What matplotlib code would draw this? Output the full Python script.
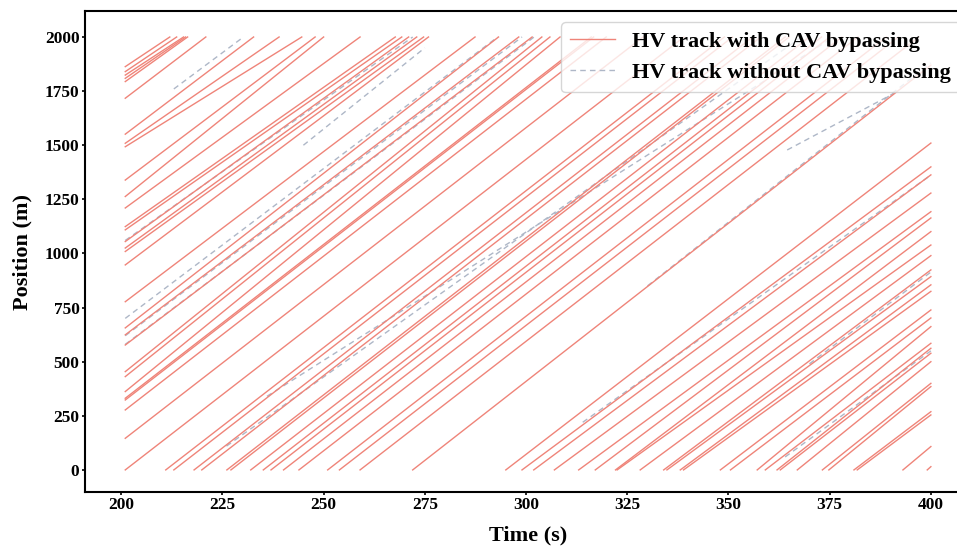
import matplotlib
matplotlib.use("Agg")
import matplotlib.pyplot as plt

plt.rcParams["font.family"] = ["Liberation Serif", "DejaVu Serif"]
plt.rcParams["font.weight"] = "bold"

# HV tracks with CAV bypassing: start (time, position) -> end (time, position)
with_t0 = [201, 201, 201, 201, 201, 201, 201, 201, 201, 201, 201, 201, 201, 201, 201,
           201, 201, 201, 201, 201, 201, 201, 201, 201, 201, 201, 201, 201, 201,
           201, 211, 213, 218, 219.9, 226.1, 227.1, 232, 235.1, 237, 240.1, 243.9, 251, 253.9, 259,
           272, 295, 299, 301.9, 307, 313, 317.1, 322.1, 322.5, 328.2, 334, 334.8, 338.1, 338.9,
           348, 350.5, 357.1, 359.1, 362, 362.8, 367, 373.2, 374.8, 381, 381.8, 393.1, 399.1]
with_x0 = [1863, 1840, 1824, 1809, 1794, 1717, 1551, 1509, 1493, 1339, 1263, 1210, 1124, 1109, 1055,
           1025, 1009, 947, 777, 656, 624, 577, 454, 431, 362, 331, 323, 277, 146,
           0, 0, 0, 0, 0, 0, 0, 0, 0, 0, 0, 0, 0, 0, 0,
           0, 0, 0, 0, 0, 0, 0, 0, 0, 0, 0, 0, 0, 0,
           0, 0, 0, 0, 0, 0, 0, 0, 0, 0, 0, 0, 0]
with_t1 = [212, 213.7, 215.4, 215.9, 216.4, 220.9, 232.7, 239, 244.6, 247.9, 250, 259, 267.7, 269.3, 271,
           273, 274.7, 275.9, 287.4, 293.2, 298.2, 301.5, 303.9, 305.9, 308.4, 316.1, 316.7, 319.8, 328.9,
           339, 349, 351, 356, 358, 364, 365, 370, 373, 375, 378, 382, 389, 392, 397,
           400, 400, 400, 400, 400, 400, 400, 400, 400, 400, 400, 400, 400, 400,
           400, 400, 400, 400, 400, 400, 400, 400, 400, 400, 400, 400, 400]
with_x1 = [2000] * 44 + [1870, 1510, 1400, 1363, 1279, 1193, 1164, 1101, 1039, 990, 924, 893, 855, 825,
                         739, 702, 662, 585, 562, 539, 500, 400, 385, 269, 254, 108, 15]

# HV tracks without CAV bypassing
without_t0 = [213, 201, 201, 201, 226, 236, 245, 201, 330, 314, 370, 364.5, 364]
without_x0 = [1760, 700, 620, 580, 110, 340, 1500, 1060, 850, 220, 490, 1478, 60]
without_t1 = [230.2, 293, 299, 302, 368, 376, 275, 272, 400, 400, 400, 391, 400]
without_x1 = [2000, 2000, 2000, 2000, 2000, 2000, 1950, 2000, 1880, 1362, 914, 1741, 550]

red = "#ef8479"
grey = "#aeb7c7"

fig = plt.figure(figsize=(9.57, 5.48), dpi=100)
ax = fig.add_axes([0.0888, 0.1022, 0.926, 0.8777])

for i in range(len(without_t0)):
    ax.plot([without_t0[i], without_t1[i]], [without_x0[i], without_x1[i]],
            color=grey, lw=1.0, ls=(0, (4, 3)), zorder=1,
            label="HV track without CAV bypassing" if i == 0 else None)
for i in range(len(with_t0)):
    ax.plot([with_t0[i], with_t1[i]], [with_x0[i], with_x1[i]],
            color=red, lw=1.0, zorder=2,
            label="HV track with CAV bypassing" if i == 0 else None)

ax.set_ylim(-102, 2120)
ax.set_xticks([200, 225, 250, 275, 300, 325, 350, 375, 400])
ax.set_yticks([0, 250, 500, 750, 1000, 1250, 1500, 1750, 2000])
ax.tick_params(labelsize=12.5, width=1.2, length=2.5, pad=1.5)
ax.tick_params(axis="x", pad=0.8)
for lab in ax.get_xticklabels() + ax.get_yticklabels():
    lab.set_fontweight("bold")
for sp in ax.spines.values():
    sp.set_linewidth(1.5)

ax.set_xlabel("Time (s)", fontsize=16, fontweight="bold", labelpad=9)
ax.set_ylabel("Position (m)", fontsize=16, fontweight="bold", labelpad=9)

handles, labels = ax.get_legend_handles_labels()
order = [1, 0]
leg = ax.legend([handles[k] for k in order], [labels[k] for k in order],
                loc="upper right", framealpha=0.8,
                prop={"weight": "bold", "size": 16})

fig.savefig("out.png", dpi=100)
